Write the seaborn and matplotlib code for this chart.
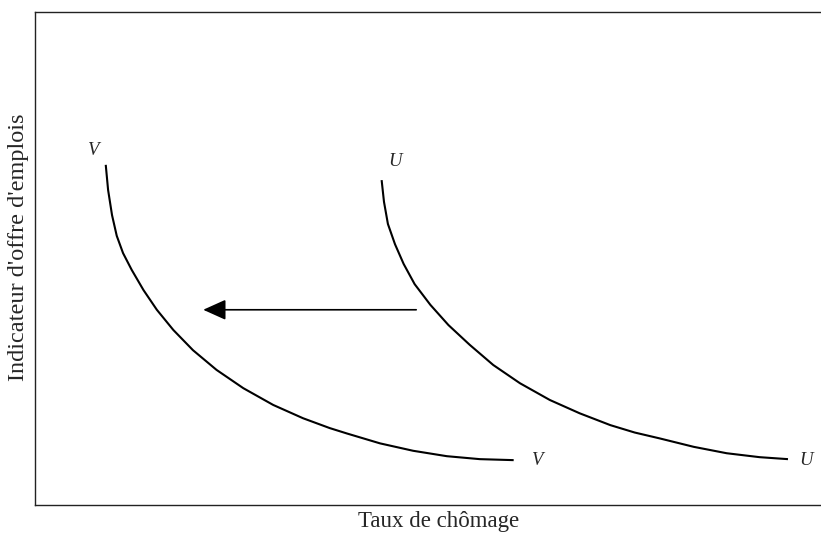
import matplotlib
matplotlib.use("Agg")
import matplotlib.pyplot as plt
import seaborn as sns
import pandas as pd

# Courbe de Beveridge : deux positions (V avant, U après... lue sur le schéma)
# unités arbitraires, 0-100 sur chaque axe
v_chomage = [9.0, 9.3, 9.8, 10.4, 11.2, 12.3, 13.8, 15.5, 17.6, 20.1, 23.1,
             26.5, 30.3, 34.1, 37.5, 39.7, 43.9, 48.1, 52.4, 56.6, 60.9]
v_offre = [69.0, 63.9, 58.8, 54.6, 51.1, 47.7, 43.6, 39.6, 35.5, 31.4, 27.4,
           23.7, 20.3, 17.6, 15.6, 14.5, 12.5, 11.0, 9.9, 9.3, 9.1]

u_chomage = [44.1, 44.4, 44.9, 45.8, 46.9, 48.3, 50.3, 52.6, 55.3, 58.3, 61.7,
             65.5, 69.3, 73.2, 76.3, 79.5, 83.8, 88.0, 92.2, 95.8]
u_offre = [65.9, 61.5, 57.0, 52.9, 48.9, 44.8, 40.6, 36.5, 32.5, 28.4, 24.7,
           21.3, 18.6, 16.2, 14.7, 13.5, 11.8, 10.5, 9.7, 9.3]

# étiquettes des courbes (texte, x, y)
labels = [("V", 7.3, 72.0), ("V", 63.9, 9.1), ("U", 45.8, 69.6), ("U", 98.1, 9.1)]

# flèche de déplacement
arrow_from = (48.5, 39.6)
arrow_to = (21.4, 39.6)

sns.set_theme(style="white")
plt.rcParams['font.family'] = ['Liberation Serif', 'DejaVu Serif']

fig = plt.figure(figsize=(8.21, 5.35), dpi=100)
ax = fig.add_axes([35 / 821, 30 / 535, 1 - 35 / 821, 493 / 535])

df = pd.concat([
    pd.DataFrame({'chomage': v_chomage, 'offre': v_offre, 'courbe': 'V'}),
    pd.DataFrame({'chomage': u_chomage, 'offre': u_offre, 'courbe': 'U'}),
])
sns.lineplot(data=df, x='chomage', y='offre', units='courbe', estimator=None,
             sort=False, color='black', linewidth=1.5, ax=ax,
             solid_joinstyle='round', solid_capstyle='butt')

for txt, x, y in labels:
    ax.text(x, y, txt, fontsize=13.5, style='italic', ha='center', va='center')

ax.annotate('', xy=arrow_to, xytext=arrow_from,
            arrowprops=dict(arrowstyle='-|>,head_length=1.0,head_width=0.45',
                            mutation_scale=14, color='black', lw=1.2,
                            shrinkA=0, shrinkB=0))

ax.set_xlim(0, 100)
ax.set_ylim(0, 100)
ax.set_xticks([])
ax.set_yticks([])
ax.set_xlabel("Taux de chômage", fontsize=16.5)
ax.set_ylabel("Indicateur d'offre d'emplois", fontsize=17.5)
ax.xaxis.set_label_coords(0.513, -0.012)
ax.yaxis.set_label_coords(-0.008, 0.522)

for side in ['left', 'top', 'bottom']:
    ax.spines[side].set_color('#222222')
    ax.spines[side].set_linewidth(1.0)
ax.spines['right'].set_visible(False)

fig.savefig("out.png", dpi=100)
